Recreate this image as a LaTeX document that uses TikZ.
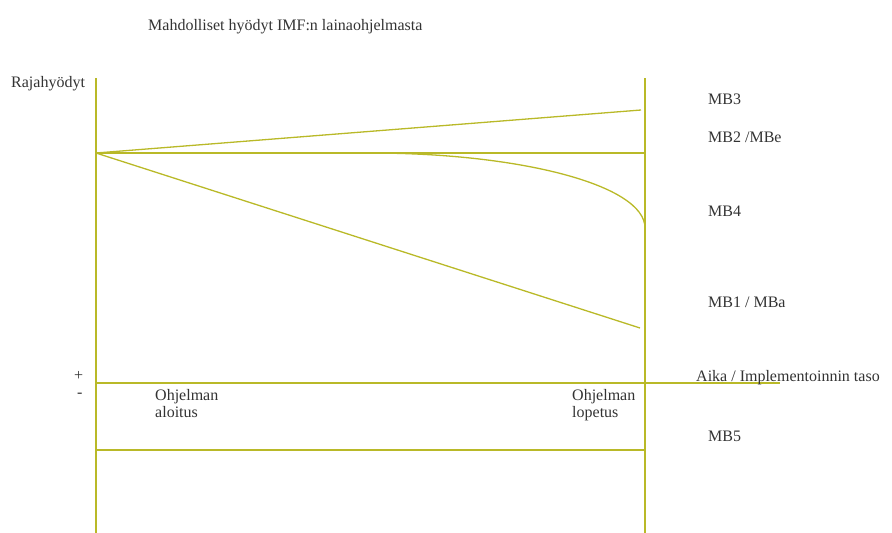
\documentclass[tikz,border=0pt]{standalone}
\usepackage{fontspec}
\setmainfont{Liberation Serif}
\begin{document}
\begin{tikzpicture}[x=1pt,y=-1pt,
  ln/.style={draw=olivey,line width=1.3pt},
  lbl/.style={inner sep=0pt,anchor=west,font=\fontsize{16}{17}\selectfont,text=black!80}]
\definecolor{olivey}{RGB}{185,185,40}
\useasboundingbox (0,0) rectangle (892,533);
% coordinates
\coordinate (ltop) at (96,78);
\coordinate (lbot) at (96,533);
\coordinate (rtop) at (645,78);
\coordinate (rbot) at (645,533);
\coordinate (o) at (96,153);
\coordinate (mb2e) at (645,153);
\coordinate (mb3e) at (641,110);
\coordinate (mb1e) at (640,328);
\coordinate (mb4s) at (370,153);
\coordinate (mb4e) at (645,228);
\coordinate (axs) at (96,383);
\coordinate (axe) at (780,383);
\coordinate (b5s) at (96,450);
\coordinate (b5e) at (645,450);
% lines
\draw[ln] (ltop) -- (lbot);
\draw[ln] (rtop) -- (rbot);
\draw[ln] (o) -- (mb2e);
\draw[ln] (o) -- (mb3e);
\draw[ln] (o) -- (mb1e);
\draw[ln] (mb4s) .. controls (520,153) and (645,185) .. (mb4e);
\draw[ln] (axs) -- (axe);
\draw[ln] (b5s) -- (b5e);
% texts
\node[lbl] (title) at (148,27) {Mahdolliset hyödyt IMF:n lainaohjelmasta};
\node[lbl] (raja) at (11,84) {Rajahyödyt};
\node[lbl] (mb3) at (708,99) {MB3};
\node[lbl] (mb2) at (708,137) {MB2 /MBe};
\node[lbl] (mb4) at (708,211) {MB4};
\node[lbl] (mb1) at (708,302) {MB1 / MBa};
\node[lbl] (plus) at (74,376) {+};
\node[lbl] (minus) at (77,395) {-};
\node[lbl] (aika) at (696,378) {Aika / Implementoinnin taso};
\node[lbl,align=left,anchor=north west] (start) at (155,389) {Ohjelman\\aloitus};
\node[lbl,align=left,anchor=north west] (end) at (572,389) {Ohjelman\\lopetus};
\node[lbl] (mb5) at (708,436) {MB5};
\end{tikzpicture}
\end{document}
